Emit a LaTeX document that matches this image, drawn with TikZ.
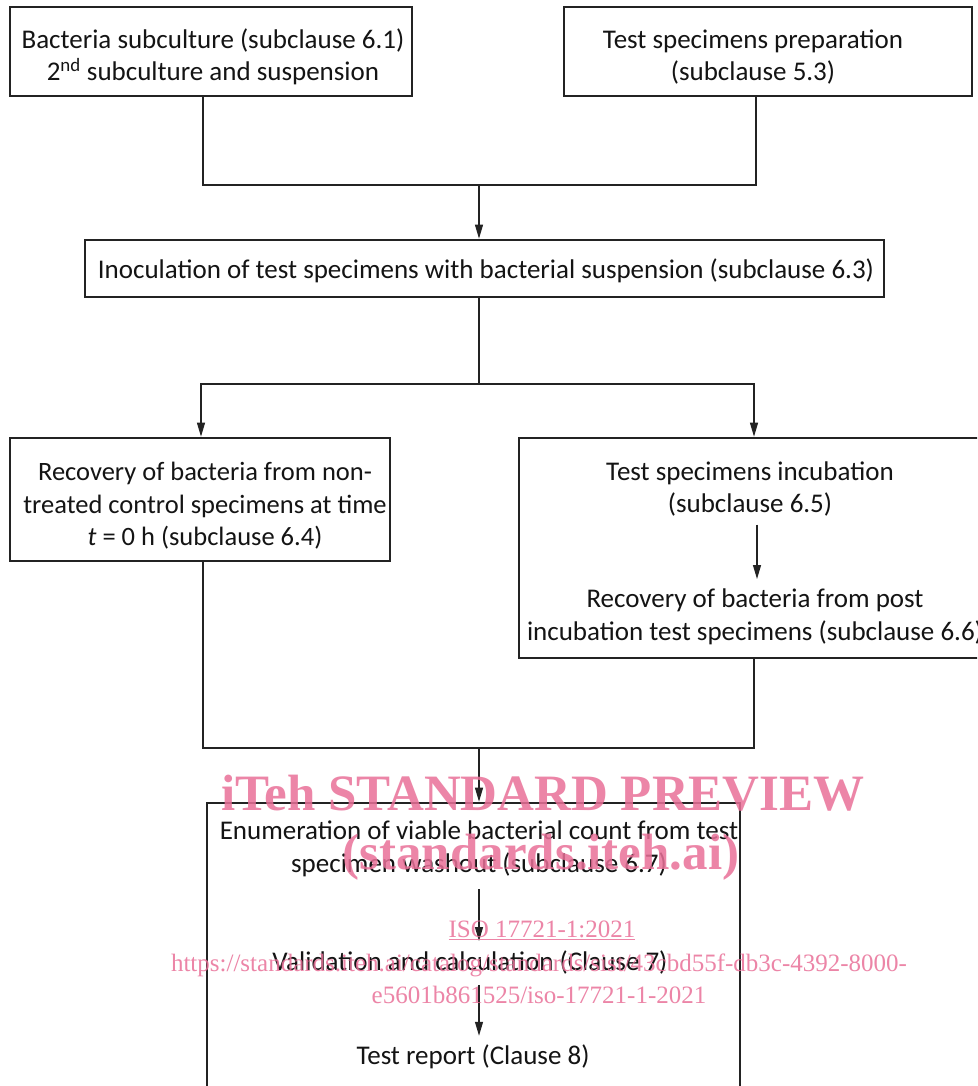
\documentclass[tikz,border=0pt]{standalone}
\usepackage{fontspec}
\setmainfont{Carlito}
\newfontfamily\wmfont{Liberation Serif}
\usetikzlibrary{arrows.meta}
\definecolor{wm}{RGB}{233,112,152}
\definecolor{ln}{RGB}{35,35,35}
\begin{document}
\begin{tikzpicture}[x=1pt,y=-1pt,
  box/.style={draw=ln,line width=2.7pt,inner sep=0pt},
  txt/.style={font=\fontsize{27}{32.5}\selectfont,align=center,inner sep=0pt,text=black!92},
  conn/.style={draw=ln,line width=1.2pt},
  arr/.style={conn,-{Triangle[length=14pt,width=8pt]}},
  wmtxt/.style={text=wm,opacity=0.85,inner sep=0pt,align=center}]
\useasboundingbox (0,0) rectangle (977,1086);
\clip (0,0) rectangle (977,1086);
\fill[white] (0,0) rectangle (977,1086);
% boxes
\node[box,minimum width=402pt,minimum height=89pt] (A) at (211,51.5) {};
\node[box,minimum width=408pt,minimum height=89pt] (B) at (768,51.5) {};
\node[box,minimum width=799pt,minimum height=57pt] (C) at (484.5,268.5) {};
\node[box,minimum width=380pt,minimum height=123pt] (D) at (200,499.5) {};
\node[box,minimum width=471pt,minimum height=220pt] (E) at (754.5,548) {};
\node[box,minimum width=533pt,minimum height=297pt] (F) at (473.5,951.5) {};
% texts
\node[txt] (At) at (213,57) {Bacteria subculture (subclause 6.1)\\2\textsuperscript{nd} subculture and suspension};
\node[txt] (Bt) at (753,57) {Test specimens preparation\\(subclause 5.3)};
\node[txt] (Ct) at (486,271) {Inoculation of test specimens with bacterial suspension (subclause 6.3)};
\node[txt,font=\fontsize{26.5}{32.5}\selectfont] (Dt) at (205,506) {Recovery of bacteria from non-\\treated control specimens at time\\\textit{t} = 0 h (subclause 6.4)};
\node[txt] (E1) at (750,489) {Test specimens incubation\\(subclause 6.5)};
\node[txt] (E2) at (755,617) {Recovery of bacteria from post\\incubation test specimens (subclause 6.6)};
\node[txt] (F1) at (479,849) {Enumeration of viable bacterial count from test\\specimen washout (subclause 6.7)};
\node[txt] (F2) at (470,962) {Validation and calculation (Clause 7)};
\node[txt] (F3) at (473,1057) {Test report (Clause 8)};
% connectors
\coordinate (j1l) at (203,185);
\coordinate (j1m) at (479,185);
\coordinate (j1r) at (756,185);
\draw[conn] (A.south -| j1l) -- (j1l) -- (j1r) -- (B.south -| j1r);
\draw[arr] (j1m) -- (C.north -| j1m);
\coordinate (j2l) at (201,384);
\coordinate (j2m) at (479,384);
\coordinate (j2r) at (754,384);
\draw[conn] (C.south -| j2m) -- (j2m);
\draw[arr] (j2m) -- (j2l) -- (D.north -| j2l);
\draw[arr] (j2m) -- (j2r) -- (E.north -| j2r);
\coordinate (j3l) at (203,748);
\coordinate (j3m) at (479,748);
\coordinate (j3r) at (754,748);
\draw[conn] (D.south -| j3l) -- (j3l) -- (j3r) -- (E.south -| j3r);
\draw[arr] (j3m) -- (F.north -| j3m);
\coordinate (ex) at (757,0);
\coordinate (fx) at (479,0);
\draw[arr] ([yshift=-8pt]E1.south -| ex) -- ([yshift=10pt]E2.north -| ex);
\draw[arr] ([yshift=-12pt]F1.south -| fx) -- ([yshift=9pt]F2.north -| fx);
\draw[arr] ([yshift=-11pt]F2.south -| fx) -- ([yshift=9pt]F3.north -| fx);
% watermark
\node[wmtxt,font=\wmfont\bfseries\fontsize{51}{51}\selectfont] (w1) at (543,793) {iTeh STANDARD PREVIEW};
\node[wmtxt,font=\wmfont\bfseries\fontsize{51}{51}\selectfont] (w2) at (541,857) {(standards.iteh.ai)};
\node[wmtxt,font=\wmfont\fontsize{25}{25}\selectfont] (w3) at (542,930) {\underline{ISO 17721-1:2021}};
\node[wmtxt,font=\wmfont\fontsize{25}{32}\selectfont] (w4) at (539,979) {https://standards.iteh.ai/catalog/standards/sist/43cbd55f-db3c-4392-8000-\\e5601b861525/iso-17721-1-2021};
\end{tikzpicture}
\end{document}
